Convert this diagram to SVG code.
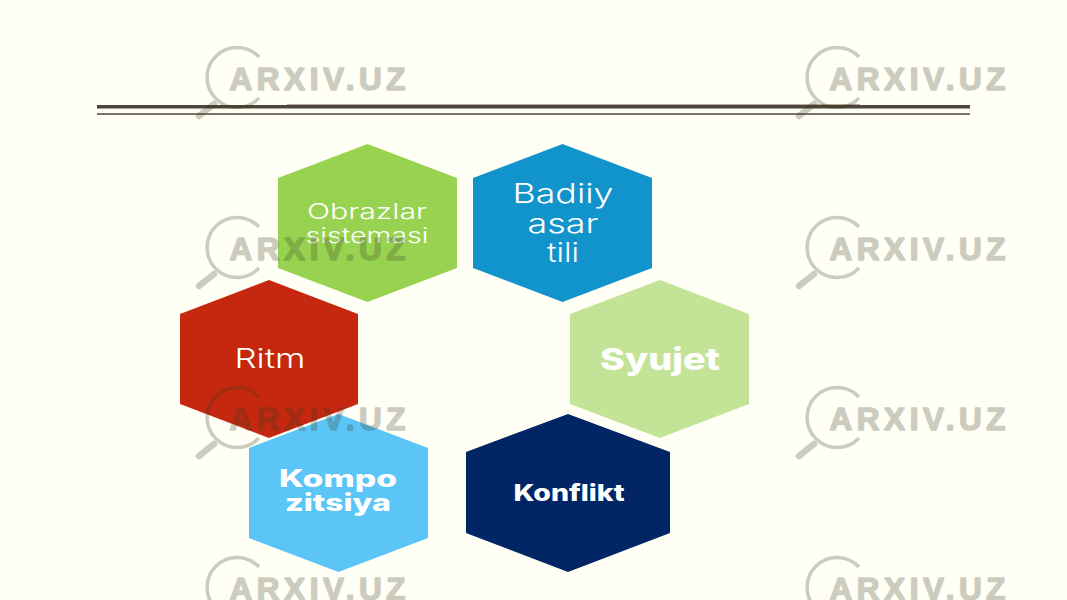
<svg xmlns="http://www.w3.org/2000/svg" xmlns:xlink="http://www.w3.org/1999/xlink" width="1067" height="600" viewBox="0 0 1067 600">
<style>
.t{font-family:"Inter","Lato","Liberation Sans",sans-serif;fill:#fff;text-anchor:middle;font-weight:300}
.b{font-weight:800}
.wt{font-family:"Liberation Sans",sans-serif;font-weight:700;font-size:31.5px;fill:#3a3a20;stroke:#3a3a20;stroke-width:1.6;stroke-linejoin:round;paint-order:stroke}
</style>
<defs>
<g id="wm" opacity="0.25">
<path d="M259 57A30 30 0 1 0 259 98" fill="none" stroke="#3a3a20" stroke-width="3.5"/>
<path d="M214 104L199 116" fill="none" stroke="#3a3a20" stroke-width="6.5" stroke-linecap="round"/>
<text class="wt" x="229.500" y="89.500" textLength="176" lengthAdjust="spacing">ARXIV.UZ</text>
</g>
</defs>
<rect width="1067" height="600" fill="#fffff5"/>
<g id="rules">
<rect x="287" y="104" width="573" height="1" fill="#b5ae9f"/>
<rect x="97" y="105" width="873" height="3.5" fill="#4d4539"/>
<rect x="97" y="113" width="873" height="2" fill="#7b7466"/>
</g>
<g id="connectors"/>
<g id="node-obrazlar">
<polygon points="367.5,144 457,178 457,268 367.5,302 278,268 278,178" fill="#97d350"/>
<text class="t" x="367" y="219" font-size="22" textLength="120" lengthAdjust="spacingAndGlyphs">Obrazlar</text>
<text class="t" x="367" y="243" font-size="22" textLength="123" lengthAdjust="spacingAndGlyphs">sistemasi</text>
</g>
<g id="node-badiiy">
<polygon points="562.5,144 652,178 652,268 562.5,302 473,268 473,178" fill="#1193cb"/>
<text class="t" x="563" y="203" font-size="27" textLength="101" lengthAdjust="spacingAndGlyphs">Badiiy</text>
<text class="t" x="563" y="233" font-size="27" textLength="71" lengthAdjust="spacingAndGlyphs">asar</text>
<text class="t" x="563" y="262" font-size="27" textLength="32" lengthAdjust="spacingAndGlyphs">tili</text>
</g>
<g id="node-syujet">
<polygon points="660,280 749,314 749,404 660,438 570,404 570,314" fill="#c3e497"/>
<text class="t b" x="660" y="370" font-size="30" textLength="120" lengthAdjust="spacingAndGlyphs">Syujet</text>
</g>
<g id="node-konflikt">
<polygon points="568,414 670,452 670,533 568,572 466,533 466,452" fill="#012565"/>
<text class="t b" x="569" y="501" font-size="23" textLength="111" lengthAdjust="spacingAndGlyphs">Konflikt</text>
</g>
<g id="node-ritm">
<polygon points="269,280 358,314 358,404 269,438 180,404 180,314" fill="#c5280f"/>
<text class="t" x="270" y="368" font-size="27" textLength="71" lengthAdjust="spacingAndGlyphs">Ritm</text>
</g>
<g id="node-kompozitsiya">
<polygon points="338.5,414 428,448 428,538 338.5,572 249,538 249,448" fill="#5bc5f7"/>
<text class="t b" x="338" y="486.500" font-size="24" textLength="118" lengthAdjust="spacingAndGlyphs">Kompo</text>
<text class="t b" x="338" y="511" font-size="24" textLength="106" lengthAdjust="spacingAndGlyphs">zitsiya</text>
</g>
<g id="watermarks">
<use xlink:href="#wm"/><use xlink:href="#wm" x="600"/>
<use xlink:href="#wm" y="170"/><use xlink:href="#wm" x="600" y="170"/>
<use xlink:href="#wm" y="340"/><use xlink:href="#wm" x="600" y="340"/>
<use xlink:href="#wm" y="510"/><use xlink:href="#wm" x="600" y="510"/>
</g>
</svg>
